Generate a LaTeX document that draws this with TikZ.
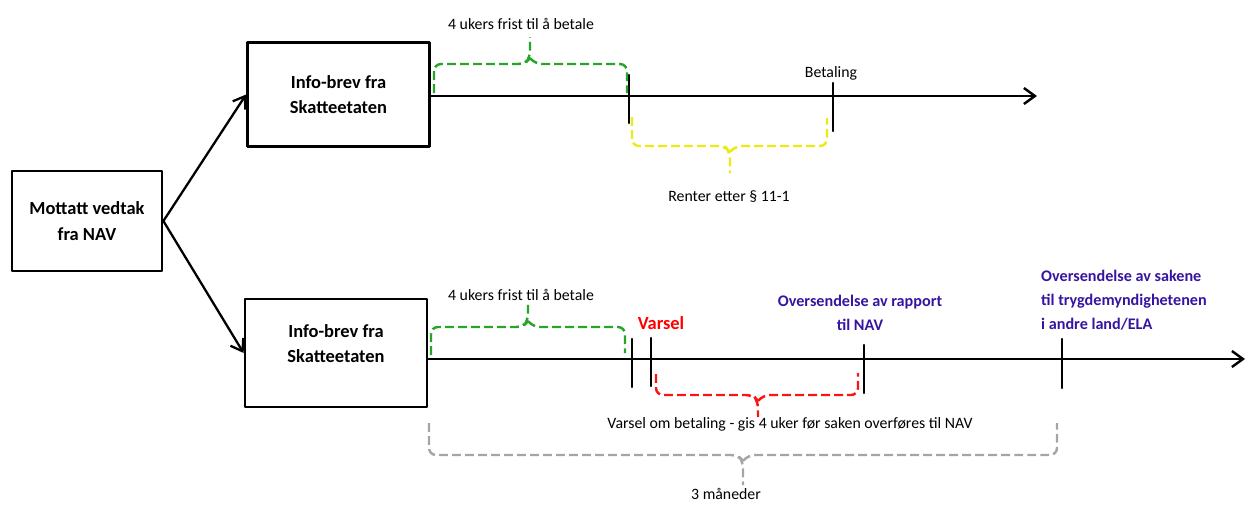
\documentclass[tikz,border=0pt]{standalone}
\usepackage{fontspec}
\setmainfont{Carlito}
\usetikzlibrary{arrows.meta,calc}

\definecolor{bracegreen}{RGB}{40,165,40}
\definecolor{braceyellow}{RGB}{235,235,20}
\definecolor{bracered}{RGB}{250,20,20}
\definecolor{bracegray}{RGB}{165,165,165}
\definecolor{navblue}{RGB}{55,20,160}

\begin{document}
\begin{tikzpicture}[
    x=0.02cm, y=-0.02cm,
    line cap=round,
    line join=round,
    stepbox/.style={draw, line width=1.6pt, minimum width=3.64cm, minimum height=2.08cm,
      align=center, font=\fontsize{10.5}{14.5}\selectfont\bfseries},
    flow/.style={-{Straight Barb[length=2.2mm, width=3mm]}, line width=1.3pt},
    timeline/.style={-{Straight Barb[length=2.2mm, width=3.2mm]}, line width=1.4pt},
    tickline/.style={line width=1.3pt},
    brace/.style={dash pattern=on 5pt off 2.4pt, line width=1.4pt, rounded corners=4pt, line cap=butt},
    note/.style={font=\fontsize{9}{11}\selectfont},
    event/.style={font=\fontsize{9.2}{13.5}\selectfont\bfseries, text=navblue}
  ]

\useasboundingbox (0,0) rectangle (1247,504);

% ============================================================
% BOXES
% ============================================================
\node[stepbox, minimum width=3cm, minimum height=2cm] (vedtak) at (87,221) {Mottatt vedtak\\fra NAV};
\node[stepbox] (info1) at (338.5,94.5) {Info-brev fra\\Skatteetaten};
\node[stepbox, minimum height=2.16cm, text depth=11pt] (info2) at (336,353) {Info-brev fra\\Skatteetaten};

\draw[flow] (vedtak.east) -- (info1.west);
\draw[flow] (vedtak.east) -- (info2.west);

% ============================================================
% TOP TIMELINE
% ============================================================
\coordinate (end1) at (1037,96);
\draw[timeline] (info1.east |- end1) -- (end1);

\draw[tickline] (629,75) -- (629,123);
\draw[tickline] (833,83) -- (833,131);

% green: payment deadline
\draw[brace, bracegreen] (434,93) |- (525,64) -- (530,58) -- (530,37);
\draw[brace, bracegreen] (530,58) -- (535,64) -| (627,93);
\node[note] (frist1) at (521,24) {4 ukers frist til å betale};

\node[note] (betaling) at (831,73) {Betaling};

% yellow: interest
\draw[brace, braceyellow] (632,117) |- (725,146) -- (730,152) -- (730,173);
\draw[brace, braceyellow] (730,152) -- (735,146) -| (827,118);
\node[note] (renter) at (729,197) {Renter etter § 11-1};

% ============================================================
% BOTTOM TIMELINE
% ============================================================
\coordinate (end2) at (1245,359);
\draw[timeline] (info2.east |- end2) -- (end2);

\draw[tickline] (632,339) -- (632,387);
\draw[tickline] (651,338) -- (651,386);
\draw[tickline] (864,345) -- (864,393);
\draw[tickline] (1062,339) -- (1062,388);

% green: payment deadline
\draw[brace, bracegreen] (431,355) |- (523,327) -- (528,321) -- (528,302);
\draw[brace, bracegreen] (528,321) -- (533,327) -| (625,353);
\node[note] (frist2) at (521,295) {4 ukers frist til å betale};

\node[font=\fontsize{10.5}{12}\selectfont\bfseries, text=red] (varsel) at (661,323) {Varsel};
\node[event, align=center] (rapport) at (860,313) {Oversendelse av rapport\\til NAV};
\node[event, align=left, anchor=west] (sakene) at (1035,300)
  {Oversendelse av sakene\\til trygdemyndighetenen\\i andre land/ELA};

% red: notice period
\draw[brace, bracered] (656,374) |- (753,395) -- (758,401) -- (758,417);
\draw[brace, bracered] (758,401) -- (763,395) -| (858,373);
\node[note] (varselom) at (790,424) {Varsel om betaling - gis 4 uker før saken overføres til NAV};

% gray: three months
\draw[brace, bracegray] (429,423) |- (738,455) -- (743,461) -- (743,485);
\draw[brace, bracegray] (743,461) -- (748,455) -| (1057,423);
\node[note] (maaneder) at (726,494) {3 måneder};

\end{tikzpicture}
\end{document}
